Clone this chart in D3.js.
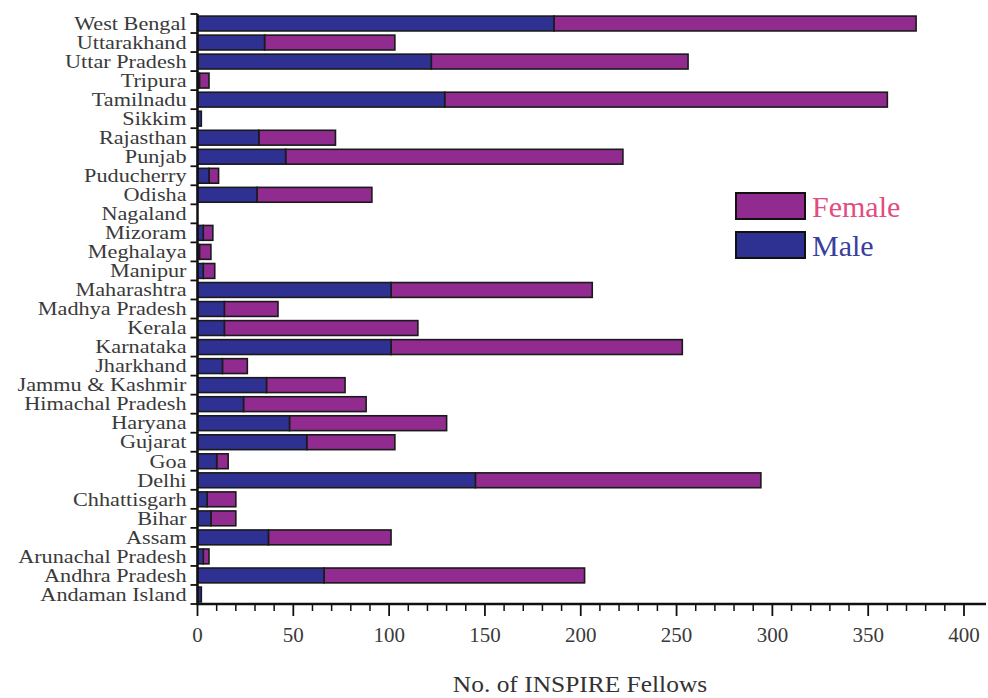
<!DOCTYPE html>
<html><head><meta charset="utf-8">
<script src="https://cdn.jsdelivr.net/npm/d3@7"></script>
<style>body{margin:0;background:#fff}svg{display:block}text{font-family:"Liberation Serif","DejaVu Serif",serif}</style>
</head><body>
<svg id="c" width="988" height="698"></svg>
<script>
const states = ["West Bengal","Uttarakhand","Uttar Pradesh","Tripura","Tamilnadu","Sikkim","Rajasthan","Punjab","Puducherry","Odisha","Nagaland","Mizoram","Meghalaya","Manipur","Maharashtra","Madhya Pradesh","Kerala","Karnataka","Jharkhand","Jammu & Kashmir","Himachal Pradesh","Haryana","Gujarat","Goa","Delhi","Chhattisgarh","Bihar","Assam","Arunachal Pradesh","Andhra Pradesh","Andaman Island"];
const male   = [186,35,122,1,129,2,32,46,6,31,0,3,1,3,101,14,14,101,13,36,24,48,57,10,145,5,7,37,3,66,2];
const female = [189,68,134,5,231,0,40,176,5,60,0,5,6,6,105,28,101,152,13,41,64,82,46,6,149,15,13,64,3,136,0];
const xTicks = [0,50,100,150,200,250,300,350,400];
const seriesNames = ["Female","Male"];
const colors = {Male:"#2e3192", Female:"#912b8f"};
const legendText = {Male:"#3b3f9c", Female:"#e24c7f"};

(function(){
const svg = d3.select("#c");
const mL = 197.5, mT = 14, mB = 604;
const x = d3.scaleLinear().domain([0,400]).range([mL, 964]);
const y = d3.scaleBand().domain(states).range([mT, mB]).paddingInner(0.22).paddingOuter(0.11);

const data = states.map((s,i)=>({state:s, male:male[i], female:female[i]}));
const g = svg.append("g");
const rows = g.selectAll("g.row").data(data).join("g");
rows.filter(d=>d.female>0).append("rect")
  .attr("x", d=>x(d.male)).attr("y", d=>y(d.state))
  .attr("width", d=>x(d.male+d.female)-x(d.male)).attr("height", y.bandwidth())
  .attr("fill", colors.Female).attr("stroke","#1a1a1a").attr("stroke-width",1.6);
rows.filter(d=>d.male>0).append("rect")
  .attr("x", d=>x(0)).attr("y", d=>y(d.state))
  .attr("width", d=>x(d.male)-x(0)).attr("height", y.bandwidth())
  .attr("fill", colors.Male).attr("stroke","#1a1a1a").attr("stroke-width",1.6);

// y axis
const ya = svg.append("g").attr("transform",`translate(${mL},0)`);
ya.append("line").attr("x1",0).attr("x2",0).attr("y1",mT).attr("y2",mB).attr("stroke","#111").attr("stroke-width",2.5);
const bounds = d3.range(states.length+1).map(i=>mT + i*(mB-mT)/states.length);
ya.selectAll("line.t").data(bounds).join("line").attr("class","t")
  .attr("x1",-7).attr("x2",0).attr("y1",d=>d).attr("y2",d=>d).attr("stroke","#111").attr("stroke-width",1.8);
ya.selectAll("text").data(states).join("text")
  .attr("transform",d=>`translate(-11,${y(d)+y.bandwidth()/2}) scale(1.17,1)`).attr("dy","0.33em")
  .attr("text-anchor","end")
  .attr("font-size",19).attr("fill","#3a3a3a").text(d=>d);

// x axis
const xa = svg.append("g").attr("transform",`translate(0,${mB})`);
xa.append("line").attr("x1",mL-1).attr("x2",986).attr("y1",0).attr("y2",0).attr("stroke","#111").attr("stroke-width",2.5);
const minor = d3.range(0,401,10).filter(v=>v%50!==0);
xa.selectAll("line.mi").data(minor).join("line").attr("class","mi")
  .attr("x1",d=>x(d)).attr("x2",d=>x(d)).attr("y1",0).attr("y2",7).attr("stroke","#111").attr("stroke-width",1.5);
xa.selectAll("line.ma").data(xTicks).join("line").attr("class","ma")
  .attr("x1",d=>x(d)).attr("x2",d=>x(d)).attr("y1",0).attr("y2",12).attr("stroke","#111").attr("stroke-width",1.8);
xa.selectAll("text").data(xTicks).join("text")
  .attr("x",d=>x(d)).attr("y",38).attr("text-anchor","middle")
  .attr("font-size",21).attr("fill","#3a3a3a").text(d=>d);

svg.append("text").attr("transform","translate(580,692) scale(1.06,1)").attr("text-anchor","middle")
  .attr("font-size",24).attr("fill","#333")
  .text("No. of INSPIRE Fellows");

// legend
const lg = svg.append("g").attr("transform","translate(736,193)");
seriesNames.forEach((s,i)=>{
  lg.append("rect").attr("x",0).attr("y",i*39).attr("width",69).attr("height",26)
    .attr("fill",colors[s]).attr("stroke","#111").attr("stroke-width",2);
  lg.append("text").attr("x",76).attr("y",i*39+24)
    .attr("font-size",30).attr("fill",legendText[s]).text(s);
});
})();
</script>
</body></html>
